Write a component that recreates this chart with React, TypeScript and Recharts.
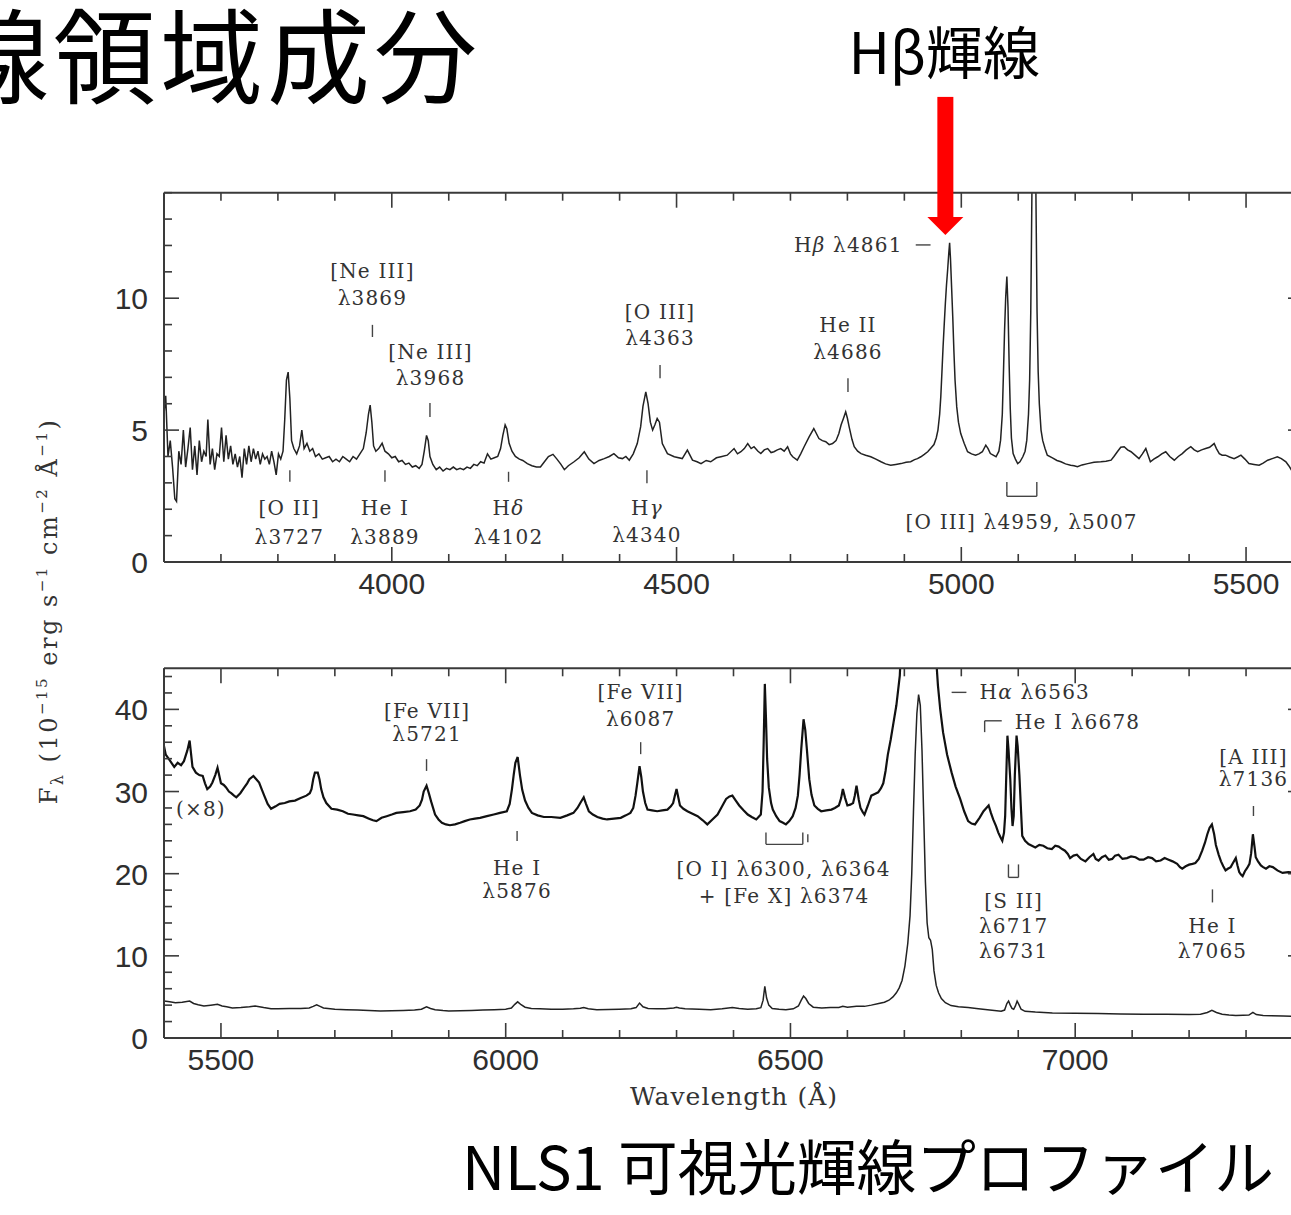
import React from "react";
import { LineChart, Line, XAxis, YAxis, ReferenceLine, ReferenceDot } from "recharts";

// ---------- DATA (observed wavelength in Å, flux in 1e-15 erg s-1 cm-2 Å-1) ----------
const blueSpectrum: [number, number][] = [
  [3600,5.6],[3603,6.3],[3607,4.0],[3611,4.6],[3615,3.6],[3619,2.4],[3622,2.3],[3626,4.2],[3630,3.7],[3634,5.0],
  [3638,3.6],[3642,4.3],[3646,5.1],[3650,3.5],[3654,4.4],[3658,3.3],[3662,4.6],[3666,3.8],[3670,4.2],[3674,4.0],
  [3677,5.4],[3681,3.7],[3685,4.3],[3689,3.5],[3693,4.1],[3697,4.0],[3701,5.1],[3705,3.8],[3709,4.8],[3713,3.9],
  [3717,4.4],[3721,3.7],[3725,4.1],[3729,3.6],[3733,4.0],[3737,3.2],[3741,4.3],[3745,3.7],[3749,4.4],[3753,3.8],
  [3757,4.3],[3761,3.9],[3765,4.2],[3769,3.7],[3773,4.1],[3777,3.9],[3781,4.0],[3785,3.7],[3789,4.2],[3793,3.8],
  [3797,3.3],[3801,4.1],[3805,3.9],[3809,4.2],[3812,5.4],[3815,6.9],[3818,7.2],[3821,6.2],[3824,4.6],[3828,4.3],
  [3833,4.1],[3838,4.4],[3842,5.0],[3846,4.3],[3851,4.5],[3856,4.2],[3861,4.3],[3866,4.0],[3872,4.1],[3878,3.9],
  [3884,3.95],[3890,4.0],[3896,3.8],[3902,3.9],[3908,3.8],[3914,4.0],[3920,3.9],[3926,3.8],[3932,4.0],[3938,3.9],
  [3944,4.1],[3950,4.3],[3955,4.9],[3959,5.6],[3962,5.95],[3965,5.3],[3968,4.4],[3972,4.2],[3977,4.3],[3983,4.5],
  [3988,4.2],[3994,4.1],[4000,3.95],[4006,4.0],[4012,3.8],[4018,3.85],[4024,3.7],[4030,3.75],[4036,3.6],[4042,3.65],
  [4048,3.55],[4053,3.7],[4057,4.2],[4061,4.8],[4064,4.6],[4067,4.0],[4072,3.7],[4078,3.5],[4084,3.6],[4090,3.45],
  [4096,3.55],[4102,3.5],[4108,3.6],[4114,3.5],[4120,3.55],[4126,3.5],[4132,3.6],[4138,3.55],[4144,3.7],[4150,3.65],
  [4156,3.8],[4162,3.75],[4168,4.1],[4174,3.9],[4180,3.95],[4186,4.0],[4191,4.3],[4195,4.8],[4199,5.2],[4202,5.05],
  [4206,4.5],[4211,4.2],[4217,4.0],[4224,3.9],[4230,3.85],[4238,3.73],[4246,3.65],[4254,3.6],[4261,3.6],[4268,3.8],
  [4275,4.0],[4283,4.08],[4290,3.9],[4297,3.7],[4303,3.5],[4310,3.65],[4320,3.8],[4329,3.95],[4338,4.18],[4346,3.9],
  [4355,3.73],[4364,3.85],[4373,3.92],[4382,4.0],[4390,4.11],[4398,3.95],[4405,3.92],[4411,4.0],[4417,3.86],[4424,4.1],
  [4431,4.49],[4437,5.13],[4441,5.9],[4446,6.45],[4450,6.0],[4454,5.3],[4458,5.0],[4462,5.2],[4466,5.44],[4470,5.3],
  [4475,4.49],[4484,4.11],[4496,3.99],[4510,3.92],[4519,4.24],[4528,3.86],[4536,3.8],[4543,3.73],[4552,3.85],[4560,3.8],
  [4570,3.95],[4578,3.99],[4589,4.05],[4601,4.3],[4607,4.1],[4613,4.18],[4619,4.3],[4625,4.49],[4631,4.3],[4636,4.37],
  [4643,4.2],[4648,4.11],[4654,4.25],[4660,4.3],[4666,4.15],[4671,4.18],[4677,4.25],[4683,4.3],[4689,4.2],[4695,4.37],
  [4700,4.1],[4704,3.99],[4712,3.86],[4718,4.1],[4724,4.37],[4733,4.75],[4741,5.06],[4750,4.68],[4756,4.6],[4762,4.56],
  [4768,4.45],[4774,4.49],[4780,4.6],[4785,4.87],[4789,5.2],[4793,5.44],[4797,5.69],[4800,5.45],[4803,5.13],[4808,4.65],
  [4812,4.37],[4818,4.2],[4824,4.11],[4832,4.05],[4841,3.99],[4850,3.9],[4859,3.8],[4867,3.72],[4876,3.67],[4885,3.7],
  [4894,3.73],[4903,3.78],[4911,3.8],[4918,3.88],[4923,3.92],[4929,3.99],[4935,4.08],[4941,4.18],[4946,4.3],[4952,4.45],
  [4956,4.7],[4959,5.0],[4962,5.6],[4964,6.27],[4966,7.2],[4968,8.16],[4970,9.0],[4972,9.8],[4974,10.5],[4976,11.07],
  [4978,11.7],[4979.5,12.1],[4981,11.5],[4983,10.4],[4985,9.3],[4987,8.0],[4989,6.9],[4992,5.88],[4995,5.3],[4999,4.87],
  [5005,4.5],[5011,4.18],[5018,4.1],[5025,4.05],[5031,4.1],[5037,4.18],[5043,4.43],[5047,4.3],[5051,4.11],[5056,4.05],
  [5061,3.99],[5066,4.2],[5069,4.62],[5072,5.6],[5074,7.15],[5076,8.8],[5078,10.06],[5080,10.82],[5082,9.68],[5084,7.5],
  [5086,5.8],[5088,4.7],[5091,4.11],[5095,3.9],[5099,3.73],[5103,3.8],[5108,3.99],[5112,4.2],[5115,4.62],[5118,5.6],
  [5120,6.9],[5122,9.5],[5124,14.0],[5126,22.0],[5127.5,25.0],[5129,21.0],[5131,14.0],[5133,9.5],[5135,7.2],[5137,6.0],
  [5140,5.0],[5143,4.6],[5147,4.3],[5151,4.05],[5160,3.95],[5168,3.85],[5175,3.8],[5183,3.72],[5192,3.67],[5198,3.65],
  [5204,3.61],[5212,3.68],[5222,3.73],[5233,3.78],[5245,3.8],[5254,3.82],[5263,3.86],[5268,4.0],[5274,4.18],[5280,4.35],
  [5286,4.37],[5292,4.25],[5298,4.18],[5305,4.05],[5312,3.92],[5318,4.1],[5324,4.3],[5328,4.05],[5332,3.8],[5338,3.9],
  [5345,3.99],[5352,4.1],[5359,4.18],[5366,4.0],[5374,3.86],[5381,4.0],[5388,4.11],[5395,4.25],[5403,4.37],[5409,4.25],
  [5415,4.18],[5422,4.25],[5429,4.3],[5436,4.35],[5444,4.49],[5448,4.3],[5453,4.11],[5458,4.05],[5464,4.05],[5471,3.98],
  [5479,3.92],[5485,3.98],[5491,4.05],[5498,3.9],[5505,3.73],[5514,3.7],[5523,3.67],[5530,3.75],[5538,3.86],[5546,3.92],
  [5555,3.99],[5562,3.92],[5570,3.8],[5575,3.65],[5580,3.48],[5590,3.3],[5600,3.2],
];

const redBoosted: [number, number][] = [
  [5400,35.5],[5403,34.5],[5409,33.9],[5418,33.0],[5424,33.5],[5430,33.2],[5435,33.7],[5441,35.0],[5445,36.2],[5450,33.0],
  [5456,32.3],[5462,32.0],[5468,31.9],[5472,31.0],[5476,30.3],[5481,30.6],[5485,31.1],[5490,32.0],[5494,32.9],[5500,31.0],
  [5505,30.8],[5509,30.5],[5514,30.0],[5518,29.8],[5523,29.5],[5527,29.3],[5534,29.8],[5541,30.5],[5546,31.0],[5550,31.5],
  [5557,31.9],[5562,31.5],[5567,31.1],[5572,30.2],[5576,29.5],[5582,28.5],[5588,27.9],[5596,28.2],[5603,28.5],[5612,28.6],
  [5620,28.8],[5630,28.9],[5640,29.2],[5650,29.5],[5656,29.8],[5659,30.3],[5662,31.5],[5665,32.3],[5670,32.3],[5673,31.5],
  [5676,30.3],[5680,29.3],[5685,28.6],[5694,27.9],[5704,27.8],[5714,27.6],[5723,27.3],[5732,27.2],[5741,27.1],[5750,27.0],
  [5760,26.7],[5767,26.5],[5773,26.4],[5782,26.8],[5791,27.0],[5800,27.2],[5808,27.4],[5820,27.5],[5832,27.6],[5842,27.8],
  [5849,28.3],[5853,29.0],[5856,30.0],[5861,30.7],[5865,29.8],[5869,28.8],[5876,27.2],[5882,26.6],[5888,26.2],[5895,26.0],
  [5902,25.9],[5911,26.0],[5920,26.2],[5928,26.4],[5937,26.6],[5946,26.7],[5955,26.8],[5967,27.0],[5979,27.2],[5990,27.4],
  [6002,27.6],[6007,28.5],[6011,30.3],[6014,32.0],[6017,33.5],[6021,34.2],[6025,32.0],[6029,30.2],[6034,28.9],[6040,28.0],
  [6046,27.4],[6056,27.1],[6067,26.9],[6080,26.9],[6096,26.8],[6108,27.1],[6119,27.4],[6126,28.0],[6131,28.6],[6137,29.3],
  [6141,28.5],[6146,27.6],[6153,27.2],[6161,26.9],[6170,26.7],[6178,26.6],[6190,26.7],[6202,26.8],[6211,27.1],[6219,27.4],
  [6224,28.0],[6228,29.5],[6231,31.0],[6235,33.1],[6238,31.8],[6241,30.0],[6245,28.6],[6249,27.8],[6257,27.7],[6266,27.6],
  [6275,27.7],[6284,27.8],[6290,28.2],[6294,28.6],[6297,29.5],[6300,30.3],[6303,29.3],[6306,28.3],[6312,27.9],[6319,27.6],
  [6328,27.3],[6337,27.0],[6346,26.5],[6354,26.0],[6363,26.6],[6372,27.2],[6380,28.2],[6387,29.1],[6393,29.4],[6398,29.5],
  [6404,28.9],[6410,28.3],[6418,27.7],[6425,27.2],[6432,26.9],[6440,26.6],[6448,27.2],[6451,30.0],[6453,36.0],[6455,43.1],
  [6457,39.0],[6459,34.0],[6462,30.5],[6466,28.6],[6469,27.8],[6475,27.0],[6481,26.4],[6487,26.2],[6492,26.0],[6498,26.4],
  [6504,27.0],[6509,28.0],[6513,29.5],[6516,32.0],[6519,35.2],[6523,38.8],[6526,37.5],[6529,35.0],[6533,31.5],[6537,29.6],
  [6542,28.3],[6548,27.9],[6554,27.6],[6563,27.7],[6572,27.8],[6578,28.0],[6585,28.3],[6589,29.2],[6592,30.3],[6596,29.2],
  [6600,28.3],[6605,28.4],[6610,28.6],[6613,29.5],[6616,30.7],[6620,29.0],[6623,28.0],[6627,27.5],[6630,27.2],[6636,28.3],
  [6642,29.5],[6648,29.7],[6654,29.9],[6659,30.4],[6663,31.0],[6667,32.5],[6671,34.5],[6676,36.3],[6680,38.0],[6686,40.5],
  [6692,44.1],[6697,52],[6702,70],[6710,120],[6716,230],[6720,300],[6725,333],[6730,300],[6735,200],[6740,110],
  [6746,85],[6752,60],[6756,46],[6759,42.9],[6763,40.0],[6768,37.2],[6775,34.5],[6783,32.3],[6790,30.6],[6798,29.1],
  [6805,27.6],[6812,26.4],[6818,26.1],[6824,26.0],[6832,26.8],[6839,27.6],[6844,28.0],[6848,28.3],[6852,27.4],[6856,26.6],
  [6861,25.8],[6865,25.0],[6869,24.4],[6872,24.0],[6875,25.0],[6877,27.0],[6879,32.0],[6881,36.8],[6883,35.0],[6886,31.5],
  [6888,28.0],[6890,25.8],[6892,27.0],[6894,32.0],[6897,36.8],[6899,35.5],[6902,32.0],[6905,27.5],[6907,24.6],[6912,24.0],
  [6918,23.6],[6924,23.4],[6930,23.2],[6937,23.5],[6944,23.4],[6951,23.1],[6959,23.0],[6965,23.4],[6971,23.3],[6977,23.0],
  [6982,22.8],[6987,22.4],[6991,21.9],[6997,22.2],[7003,22.3],[7010,21.8],[7018,21.5],[7025,22.0],[7032,22.4],[7036,21.8],
  [7041,21.6],[7047,22.0],[7053,22.2],[7059,21.7],[7065,21.8],[7070,22.2],[7076,22.3],[7083,21.8],[7091,21.9],[7098,22.1],
  [7106,22.0],[7113,21.7],[7120,21.7],[7128,22.0],[7135,21.9],[7142,21.5],[7150,21.6],[7157,21.9],[7164,21.7],[7171,21.5],
  [7179,21.2],[7184,20.8],[7188,20.6],[7194,20.9],[7200,21.1],[7206,21.2],[7211,21.3],[7217,21.8],[7223,22.8],[7228,23.8],
  [7232,24.8],[7236,25.6],[7240,26.0],[7244,24.8],[7247,23.5],[7252,22.3],[7256,21.5],[7260,20.9],[7264,20.4],[7268,20.6],
  [7273,20.8],[7277,21.3],[7282,21.9],[7285,21.0],[7288,20.2],[7291,19.9],[7294,19.7],[7298,20.3],[7302,20.7],[7306,21.2],
  [7309,22.5],[7312,24.8],[7315,23.2],[7317,22.0],[7321,21.5],[7326,21.0],[7330,20.8],[7335,20.6],[7341,20.9],[7347,20.8],
  [7355,20.4],[7364,20.1],[7374,20.2],[7384,20.1],[7392,20.0],[7400,19.9],
];

const redSpectrum: [number, number][] = [
  [5400,4.5],[5410,4.4],[5420,4.3],[5432,4.35],[5445,4.5],[5452,4.2],[5460,4.05],[5470,3.9],[5482,4.0],[5494,4.1],
  [5502,3.9],[5510,3.8],[5520,3.65],[5535,3.7],[5550,3.8],[5560,3.9],[5575,3.7],[5588,3.55],[5600,3.55],[5620,3.58],
  [5640,3.6],[5655,3.65],[5662,3.85],[5668,4.05],[5674,3.85],[5680,3.65],[5700,3.5],[5720,3.45],[5740,3.4],[5760,3.35],
  [5780,3.3],[5800,3.33],[5820,3.35],[5840,3.4],[5852,3.5],[5861,3.8],[5868,3.6],[5876,3.45],[5890,3.35],[5900,3.3],
  [5920,3.32],[5940,3.35],[5960,3.4],[5980,3.45],[6000,3.5],[6010,3.65],[6016,4.1],[6021,4.4],[6027,4.05],[6034,3.75],
  [6045,3.6],[6060,3.55],[6080,3.5],[6100,3.5],[6119,3.55],[6131,3.62],[6137,3.7],[6145,3.55],[6160,3.45],[6180,3.47],
  [6200,3.5],[6220,3.55],[6229,3.7],[6235,4.25],[6241,3.8],[6250,3.6],[6265,3.55],[6280,3.55],[6295,3.65],[6300,3.75],
  [6305,3.65],[6315,3.55],[6340,3.5],[6360,3.45],[6380,3.55],[6398,3.7],[6410,3.6],[6425,3.5],[6440,3.55],[6448,3.7],
  [6452,4.6],[6455,6.3],[6458,4.9],[6462,4.0],[6468,3.6],[6480,3.5],[6492,3.45],[6505,3.55],[6514,3.9],[6519,4.6],
  [6523,5.1],[6527,4.8],[6532,4.2],[6540,3.75],[6555,3.65],[6570,3.7],[6585,3.72],[6592,3.85],[6600,3.75],[6616,3.85],
  [6630,3.85],[6642,4.0],[6655,4.2],[6665,4.35],[6673,4.6],[6680,5.0],[6686,5.5],[6691,6.1],[6696,7.0],[6701,8.75],
  [6706,11.5],[6710,14.9],[6713,20.0],[6716,27.5],[6719,34.5],[6722,39.5],[6725,41.8],[6728,40.5],[6731,35.0],[6734,27.0],
  [6737,19.0],[6740,14.0],[6743,12.2],[6746,11.9],[6749,10.8],[6752,8.2],[6756,6.4],[6760,5.5],[6765,4.8],[6772,4.3],
  [6782,3.95],[6795,3.8],[6812,3.7],[6830,3.55],[6850,3.4],[6870,3.25],[6876,3.4],[6880,4.2],[6883,4.5],[6886,4.0],
  [6889,3.6],[6892,3.5],[6895,3.9],[6898,4.5],[6901,4.1],[6905,3.5],[6912,3.25],[6930,3.15],[6960,3.05],[7000,3.0],
  [7040,2.97],[7080,2.93],[7120,2.9],[7160,2.88],[7200,2.85],[7220,2.9],[7232,3.1],[7240,3.37],[7248,3.1],[7258,2.9],
  [7270,2.8],[7282,2.75],[7295,2.78],[7305,2.8],[7312,3.13],[7318,2.85],[7330,2.75],[7345,2.72],[7365,2.68],[7384,2.64],
  [7400,2.6],
];

// ---------- AXES ----------
const topXTicks = [3600,3700,3800,3900,4000,4100,4200,4300,4400,4500,4600,4700,4800,4900,5000,5100,5200,5300,5400,5500,5600];
const topXLabels = [4000, 4500, 5000, 5500];
const topYTicks = [0,1,2,3,4,5,6,7,8,9,10,11,12,13,14];
const topYLabels = [0, 5, 10];
const botXTicks = [5400,5500,5600,5700,5800,5900,6000,6100,6200,6300,6400,6500,6600,6700,6800,6900,7000,7100,7200,7300,7400];
const botXLabels = [5500, 6000, 6500, 7000];
const botYTicks = [0,2,4,6,8,10,12,14,16,18,20,22,24,26,28,30,32,34,36,38,40,42,44];
const botYLabels = [0, 10, 20, 30, 40];

// ---------- ANNOTATIONS (data coordinates) ----------
type Note = [number, number, string, ("start" | "middle" | "end")?];
const topNotes: Note[] = [
  [3966, 11.04, "[Ne III]"], [3966, 10.01, "λ3869"],
  [4068, 7.97, "[Ne III]"], [4068, 6.96, "λ3968"],
  [3820, 2.04, "[O II]"], [3820, 0.95, "λ3727"],
  [3988, 2.04, "He I"], [3988, 0.95, "λ3889"],
  [4205, 2.04, "Hδ"], [4205, 0.95, "λ4102"],
  [4471, 9.49, "[O III]"], [4471, 8.48, "λ4363"],
  [4448, 2.04, "Hγ"], [4448, 1.01, "λ4340"],
  [4801, 8.99, "He II"], [4801, 7.97, "λ4686"],
  [4897, 12.02, "Hβ λ4861", "end"],
  [5106, 1.52, "[O III] λ4959, λ5007"],
];
const botNotes: Note[] = [
  [5421, 27.84, "(×8)", "start"],
  [5862, 39.83, "[Fe VII]"], [5862, 36.99, "λ5721"],
  [6020, 20.73, "He I"], [6020, 17.88, "λ5876"],
  [6237, 42.11, "[Fe VII]"], [6237, 38.82, "λ6087"],
  [6488, 20.52, "[O I] λ6300, λ6364"], [6489, 17.27, "+ [Fe X] λ6374"],
  [6832, 42.07, "Hα λ6563", "start"],
  [6894, 38.45, "He I λ6678", "start"],
  [6892, 16.66, "[S II]"], [6892, 13.61, "λ6717"], [6892, 10.56, "λ6731"],
  [7241, 13.61, "He I"], [7241, 10.56, "λ7065"],
  [7313, 34.18, "[A III]"], [7313, 31.5, "λ7136"],
];
type Seg = [number, number, number, number];
const topMarks: Seg[] = [
  [3966, 8.99, 3966, 8.53], [4067, 6.03, 4067, 5.5], [3821, 3.48, 3821, 3.04], [3988, 3.48, 3988, 3.04],
  [4205, 3.42, 4205, 3.04], [4471, 7.47, 4471, 6.97], [4448, 3.48, 4448, 2.99], [4801, 6.97, 4801, 6.44],
  [4920, 12.02, 4946, 12.02],
  [5080, 3.03, 5080, 2.49], [5080, 2.49, 5132.6, 2.49], [5132.6, 2.49, 5132.6, 3.03],
];
const botMarks: Seg[] = [
  [5861, 33.94, 5861, 32.51], [6020, 25.2, 6020, 23.98], [6237, 36.01, 6237, 34.55],
  [6457, 25.0, 6457, 23.57], [6457, 23.57, 6521.7, 23.57], [6521.7, 23.57, 6521.7, 25.0],
  [6530.5, 24.79, 6530.5, 23.82],
  [6783, 42.07, 6809, 42.07],
  [6841, 37.23, 6841, 38.61], [6841, 38.61, 6871, 38.61],
  [6882.8, 21.13, 6882.8, 19.55], [6882.8, 19.55, 6900.4, 19.55], [6900.4, 19.55, 6900.4, 21.13],
  [7241, 18.09, 7241, 16.5], [7313, 28.24, 7313, 27.02],
];
const hbetaArrowTip: [number, number] = [4972, 12.4];
const hbetaCaption = "Hβ輝線";
const titleText = "線領域成分";
const footerText = "NLS1 可視光輝線プロファイル";
const xAxisTitle = "Wavelength (Å)";

// ---------- STYLE ----------
const AX = "#3a3a3a";
const MAJOR = 15;
const MINOR = 8;
const tickFont = { fontFamily: "'Liberation Sans', Arial, sans-serif", fontSize: 30, fill: "#2e2e2e" };
const noteStyle: React.CSSProperties = { fontFamily: "'DejaVu Serif', serif", fontSize: 20, fill: "#333", letterSpacing: 1.2 };
const cjk = "'Noto Sans CJK JP', 'Noto Sans CJK SC', sans-serif";

const toPoints = (arr: [number, number][]) => arr.map(([w, f]) => ({ w, f }));

const bottomTick = (labels: number[]) => (p: any) => {
  const v = p.payload.value;
  const major = labels.includes(v);
  return (
    <g>
      <line x1={p.x} x2={p.x} y1={p.y} y2={p.y - (major ? MAJOR : MINOR)} stroke={AX} strokeWidth={1.6} />
      {major && (
        <text x={p.x} y={p.y + 32} textAnchor="middle" {...tickFont}>{v}</text>
      )}
    </g>
  );
};
const topTick = (labels: number[]) => (p: any) => {
  const major = labels.includes(p.payload.value);
  return <line x1={p.x} x2={p.x} y1={p.y} y2={p.y + (major ? MAJOR : MINOR)} stroke={AX} strokeWidth={1.6} />;
};
const leftTick = (labels: number[]) => (p: any) => {
  const v = p.payload.value;
  const major = labels.includes(v);
  return (
    <g>
      <line x1={p.x} x2={p.x + (major ? MAJOR : MINOR)} y1={p.y} y2={p.y} stroke={AX} strokeWidth={1.6} />
      {major && (
        <text x={p.x - 16} y={p.y + 11} textAnchor="end" {...tickFont}>{v}</text>
      )}
    </g>
  );
};
const rightTick = (labels: number[]) => (p: any) => {
  const major = labels.includes(p.payload.value);
  return <line x1={p.x} x2={p.x - (major ? MAJOR : MINOR)} y1={p.y} y2={p.y} stroke={AX} strokeWidth={1.6} />;
};

function rich(t: string) {
  return t.split(/([αβγδ])/).filter((s) => s.length > 0).map((s, i) =>
    "αβγδ".includes(s) ? <tspan key={i} fontStyle="italic">{s}</tspan> : <tspan key={i}>{s}</tspan>
  );
}

function renderNotes(notes: Note[], prefix: string) {
  return notes.map(([w, f, t, a], i) => (
    <ReferenceDot
      key={prefix + "n" + i}
      x={w}
      y={f}
      r={0}
      ifOverflow="visible"
      shape={(p: any) => (
        <text x={p.cx} y={p.cy} textAnchor={a ?? "middle"} dominantBaseline="central" style={noteStyle}>
          {rich(t)}
        </text>
      )}
    />
  ));
}
function renderMarks(marks: Seg[], prefix: string) {
  return marks.map(([w1, f1, w2, f2], i) => (
    <ReferenceLine
      key={prefix + "m" + i}
      segment={[{ x: w1, y: f1 }, { x: w2, y: f2 }]}
      stroke="#444"
      strokeWidth={1.4}
      ifOverflow="visible"
    />
  ));
}

const axisLine = { stroke: AX, strokeWidth: 2 };

export default function App() {
  const blue = toPoints(blueSpectrum);
  const boosted = toPoints(redBoosted);
  const red = toPoints(redSpectrum);
  return (
    <div style={{ position: "absolute", left: 0, top: 0, width: 1291, height: 1215, overflow: "hidden", background: "#fff" }}>
      <div style={{ position: "absolute", left: 0, top: 0 }}>
        <LineChart width={1320} height={602} margin={{ top: 191.7, right: 16, bottom: 0, left: 104 }}>
          <XAxis xAxisId={0} type="number" dataKey="w" domain={[3600, 5600]} allowDataOverflow ticks={topXTicks}
            interval={0} tickSize={0} tickMargin={0} height={40} tickLine={false} axisLine={axisLine} tick={bottomTick(topXLabels)} />
          <XAxis xAxisId="t" orientation="top" type="number" dataKey="w" domain={[3600, 5600]} allowDataOverflow ticks={topXTicks}
            interval={0} tickSize={0} tickMargin={0} height={1} tickLine={false} axisLine={axisLine} tick={topTick(topXLabels)} />
          <YAxis yAxisId={0} type="number" domain={[0, 14]} allowDataOverflow ticks={topYTicks}
            interval={0} tickSize={0} tickMargin={0} width={60} tickLine={false} axisLine={axisLine} tick={leftTick(topYLabels)} />
          <YAxis yAxisId="r" orientation="right" type="number" domain={[0, 14]} allowDataOverflow ticks={topYTicks}
            interval={0} tickSize={0} tickMargin={0} width={1} tickLine={false} axisLine={axisLine} tick={rightTick(topYLabels)} />
          <Line data={blue} dataKey="f" type="linear" stroke="#222" strokeWidth={1.5} dot={false} isAnimationActive={false} />
          {renderMarks(topMarks, "t")}
          {renderNotes(topNotes, "t")}
          <ReferenceDot
            x={hbetaArrowTip[0]}
            y={hbetaArrowTip[1]}
            r={0}
            ifOverflow="visible"
            shape={(p: any) => (
              <g>
                <rect x={p.cx - 8} y={p.cy - 138} width={16} height={122} fill="#ff0000" />
                <polygon points={`${p.cx - 18},${p.cy - 18} ${p.cx + 18},${p.cy - 18} ${p.cx},${p.cy}`} fill="#ff0000" />
                <text x={p.cx - 1} y={p.cy - 161} textAnchor="middle" fontFamily={cjk} fontSize={57} fill="#000">
                  {hbetaCaption}
                </text>
              </g>
            )}
          />
        </LineChart>
      </div>
      <div style={{ position: "absolute", left: 0, top: 620 }}>
        <LineChart width={1320} height={458} margin={{ top: 47.3, right: 16, bottom: 0, left: 104 }}>
          <XAxis xAxisId={0} type="number" dataKey="w" domain={[5400, 7400]} allowDataOverflow ticks={botXTicks}
            interval={0} tickSize={0} tickMargin={0} height={40} tickLine={false} axisLine={axisLine} tick={bottomTick(botXLabels)} />
          <XAxis xAxisId="t" orientation="top" type="number" dataKey="w" domain={[5400, 7400]} allowDataOverflow ticks={botXTicks}
            interval={0} tickSize={0} tickMargin={0} height={1} tickLine={false} axisLine={axisLine} tick={topTick(botXLabels)} />
          <YAxis yAxisId={0} type="number" domain={[0, 45]} allowDataOverflow ticks={botYTicks}
            interval={0} tickSize={0} tickMargin={0} width={60} tickLine={false} axisLine={axisLine} tick={leftTick(botYLabels)} />
          <YAxis yAxisId="r" orientation="right" type="number" domain={[0, 45]} allowDataOverflow ticks={botYTicks}
            interval={0} tickSize={0} tickMargin={0} width={1} tickLine={false} axisLine={axisLine} tick={rightTick(botYLabels)} />
          <Line data={boosted} dataKey="f" type="linear" stroke="#111" strokeWidth={2.2} dot={false} isAnimationActive={false} />
          <Line data={red} dataKey="f" type="linear" stroke="#222" strokeWidth={1.5} dot={false} isAnimationActive={false} />
          {renderMarks(botMarks, "b")}
          {renderNotes(botNotes, "b")}
        </LineChart>
      </div>
      <svg width={1291} height={1215} style={{ position: "absolute", left: 0, top: 0, pointerEvents: "none" }}>
        <text x={-54} y={96} fontFamily={cjk} fontSize={103} letterSpacing={4} fill="#000">{titleText}</text>
        <text x={462} y={1190} fontFamily={cjk} fontSize={60} textLength={812} lengthAdjust="spacingAndGlyphs" fill="#000">
          {footerText}
        </text>
        <text x={734} y={1105} textAnchor="middle" fontFamily="'DejaVu Serif', serif" fontSize={25} letterSpacing={1} fill="#333">
          {xAxisTitle}
        </text>
        <text transform="translate(57,611) rotate(-90)" textAnchor="middle" fontFamily="'DejaVu Serif', serif" fontSize={24}
          letterSpacing={2.5} fill="#333">
          <tspan>F</tspan>
          <tspan fontSize={16} dy={6}>λ</tspan>
          <tspan dy={-6}> (10</tspan>
          <tspan fontSize={15} dy={-10}>−15</tspan>
          <tspan dy={10}> erg s</tspan>
          <tspan fontSize={15} dy={-10}>−1</tspan>
          <tspan dy={10}> cm</tspan>
          <tspan fontSize={15} dy={-10}>−2</tspan>
          <tspan dy={10}> Å</tspan>
          <tspan fontSize={15} dy={-10}>−1</tspan>
          <tspan dy={10}>)</tspan>
        </text>
      </svg>
    </div>
  );
}
